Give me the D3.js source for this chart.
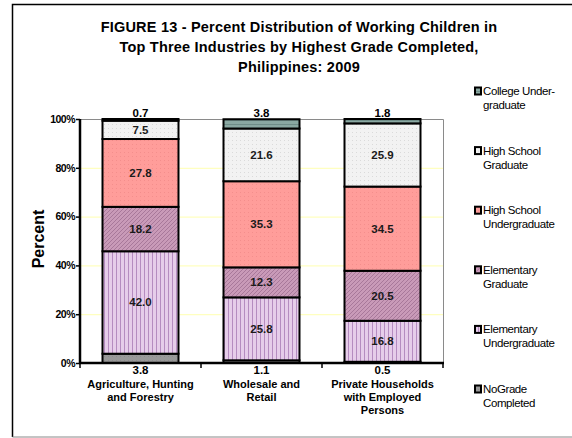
<!DOCTYPE html>
<html>
<head>
<meta charset="utf-8">
<script src="https://cdn.jsdelivr.net/npm/d3@7"></script>
<style>
  body { margin: 0; background: #fff; }
  svg text { font-family: Arial, "Liberation Sans", sans-serif; }
</style>
</head>
<body>
<div class="chartWrapper"></div>
<script>
// data
let industries = ['Agriculture, Hunting and Forestry', 'Wholesale and Retail', 'Private Households with Employed Persons'];
let industryLines = [['Agriculture, Hunting', 'and Forestry'], ['Wholesale and', 'Retail'], ['Private Households', 'with Employed', 'Persons']];
let grades = ['NoGrade Completed', 'Elementary Undergraduate', 'Elementary Graduate', 'High School Undergraduate', 'High School Graduate', 'College Undergraduate'];
let noGrade = [3.8, 1.1, 0.5];
let elemUnder = [42.0, 25.8, 16.8];
let elemGrad = [18.2, 12.3, 20.5];
let hsUnder = [27.8, 35.3, 34.5];
let hsGrad = [7.5, 21.6, 25.9];
let college = [0.7, 3.8, 1.8];
let yTicks = [0, 20, 40, 60, 80, 100];
let legendLines = [['College Under-', 'graduate'], ['High School', 'Graduate'], ['High School', 'Undergraduate'], ['Elementary', 'Graduate'], ['Elementary', 'Undergraduate'], ['NoGrade', 'Completed']];

let series = [noGrade, elemUnder, elemGrad, hsUnder, hsGrad, college];

let width = 572, height = 438;
let svg = d3.select('.chartWrapper').append('svg')
	.attr('width', width).attr('height', height);

//Patterns for each segment
let defs = svg.append('defs');
let pat = (id, bg, draw) => {
	let p = defs.append('pattern').attr('id', id).attr('patternUnits', 'userSpaceOnUse')
		.attr('width', 4).attr('height', 4);
	p.append('rect').attr('width', 4).attr('height', 4).attr('fill', bg);
	draw(p);
};
pat('pNone', '#999999', p => p.append('rect').attr('width', 1).attr('height', 1).attr('fill', '#8c8c8c'));
pat('pElemU', '#e6cdea', p => p.append('rect').attr('x', 0).attr('width', 1).attr('height', 4).attr('fill', '#b58cc0'));
pat('pElemG', '#c99ab8', p => p.append('path').attr('d', 'M0,4 L4,0').attr('stroke', '#a8789a').attr('stroke-width', 1));
pat('pHsU', '#ff9d9a', p => p.append('rect').attr('width', 1).attr('height', 1).attr('fill', '#f48e8c'));
pat('pHsG', '#f2f2f2', p => p.append('rect').attr('width', 1).attr('height', 1).attr('fill', '#dadada'));
pat('pColl', '#8aa8a2', p => p.append('rect').attr('y', 0).attr('width', 4).attr('height', 1).attr('fill', '#6f8d88'));
let fills = ['url(#pNone)', 'url(#pElemU)', 'url(#pElemG)', 'url(#pHsU)', 'url(#pHsG)', 'url(#pColl)'];

//Outer frame
svg.append('path').attr('d', 'M12.5,437 L12.5,4.5 L572,4.5').attr('fill', 'none').attr('stroke', '#000').attr('stroke-width', 1.5);
svg.append('line').attr('x1', 12.5).attr('x2', 572).attr('y1', 437).attr('y2', 437).attr('stroke', '#888');

//Title
let title = ['FIGURE 13 - Percent Distribution of Working Children in', 'Top Three Industries by Highest Grade Completed,', 'Philippines: 2009'];
svg.append('g').selectAll('text').data(title).enter().append('text')
	.attr('x', 299).attr('y', (d, i) => 32 + i * 20)
	.attr('text-anchor', 'middle').style('font-size', '14.5px').style('font-weight', 'bold')
	.style('letter-spacing', '0.2px')
	.text(d => d);

//Scales
let xScale = d3.scaleBand().domain(industries).range([80, 443]).paddingInner(0.372).paddingOuter(0.186);
let yScale = d3.scaleLinear().domain([0, 100]).range([363, 119]);

//Gridlines and plot border
let plot = svg.append('g');
plot.selectAll('line.grid').data(yTicks.filter(t => t > 0 && t < 100)).enter().append('line')
	.attr('x1', 81).attr('x2', 443).attr('y1', d => yScale(d) + 0.5).attr('y2', d => yScale(d) + 0.5)
	.attr('stroke', '#ffffc0').attr('stroke-width', 1.2);
plot.append('path').attr('d', 'M80,' + (yScale(100) + 0.5) + ' L443.5,' + (yScale(100) + 0.5) + ' L443.5,' + yScale(0))
	.attr('fill', 'none').attr('stroke', '#8a8a8a').attr('stroke-width', 1);

//Stack
let stackData = industries.map((c, i) => {
	let row = { cat: c };
	grades.forEach((g, k) => row[g] = series[k][i]);
	return row;
});
let stacked = d3.stack().keys(grades)(stackData);

let bars = svg.append('g');
stacked.forEach((layer, k) => {
	bars.selectAll('rect.s' + k).data(layer).enter().append('rect')
		.attr('x', d => xScale(d.data.cat))
		.attr('y', d => yScale(d[1]))
		.attr('width', xScale.bandwidth())
		.attr('height', d => yScale(d[0]) - yScale(d[1]))
		.attr('fill', fills[k])
		.attr('stroke', '#000').attr('stroke-width', 2);
});

//Value labels inside the middle segments
stacked.slice(1, 5).forEach(layer => {
	bars.selectAll(null).data(layer).enter().append('text')
		.attr('x', d => xScale(d.data.cat) + xScale.bandwidth() / 2)
		.attr('y', d => (yScale(d[0]) + yScale(d[1])) / 2 + 4)
		.attr('text-anchor', 'middle').style('font-size', '11.5px').style('font-weight', 'bold').attr('fill', '#1a1a1a')
		.text(d => (d[1] - d[0]).toFixed(1));
});
//Top labels (College) above bars
bars.selectAll(null).data(stacked[5]).enter().append('text')
	.attr('x', d => xScale(d.data.cat) + xScale.bandwidth() / 2)
	.attr('y', d => yScale(100) - 2)
	.attr('text-anchor', 'middle').style('font-size', '11.5px').style('font-weight', 'bold')
	.text(d => (d[1] - d[0]).toFixed(1));
//Bottom labels (No grade) below axis
bars.selectAll(null).data(stacked[0]).enter().append('text')
	.attr('x', d => xScale(d.data.cat) + xScale.bandwidth() / 2)
	.attr('y', yScale(0) + 11)
	.attr('text-anchor', 'middle').style('font-size', '11.5px').style('font-weight', 'bold')
	.text(d => (d[1] - d[0]).toFixed(1));

//Y axis
let yAxis = d3.axisLeft(yScale).tickValues(yTicks).tickSize(4).tickFormat(d => d + '%');
let yAxisGroup = svg.append('g').attr('transform', 'translate(80,0)').call(yAxis);
yAxisGroup.select('.domain').attr('stroke-width', 2.5).attr('d', 'M0,' + yScale(100) + 'V' + (yScale(0) + 1));
yAxisGroup.selectAll('.tick line').attr('stroke-width', 1.5);
yAxisGroup.selectAll('.tick text').attr('x', -5).style('font-size', '10.5px').style('font-weight', 'bold')
	.style('font-family', 'Arial, "Liberation Sans", sans-serif').style('letter-spacing', '-0.5px');

//X axis
let xAxisGroup = svg.append('g');
xAxisGroup.append('line').attr('x1', 79).attr('x2', 444).attr('y1', yScale(0)).attr('y2', yScale(0))
	.attr('stroke', '#000').attr('stroke-width', 2.5);
let bounds = [80].concat(industries.map(c => xScale(c) + xScale.bandwidth() + xScale.step() * xScale.paddingInner() / 2));
bounds[3] = 443;
xAxisGroup.selectAll('line.tk').data(bounds).enter().append('line')
	.attr('x1', d => d).attr('x2', d => d).attr('y1', yScale(0)).attr('y2', yScale(0) + 5)
	.attr('stroke', '#000').attr('stroke-width', 1.5);
xAxisGroup.selectAll('g.lbl').data(industries).enter().append('text')
	.attr('text-anchor', 'middle').style('font-size', '11px').style('font-weight', 'bold')
	.attr('transform', d => 'translate(' + (xScale(d) + xScale.bandwidth() / 2) + ',' + (yScale(0) + 25) + ')')
	.selectAll('tspan').data((d, i) => industryLines[i]).enter().append('tspan')
	.attr('x', 0).attr('dy', (d, i) => i === 0 ? 0 : 13).text(d => d);

//Y label
svg.append('text').attr('transform', 'translate(44,239) rotate(-90)')
	.attr('text-anchor', 'middle').style('font-size', '16px').style('font-weight', 'bold').text('Percent');

//Legend (top to bottom: College first)
let legendFills = fills.slice().reverse();
let legend = svg.append('g').selectAll('g').data(legendLines).enter().append('g')
	.attr('transform', (d, i) => 'translate(474,' + (91 + i * 59.6) + ')');
legend.append('rect').attr('x', 1).attr('y', -3.5).attr('width', 6).attr('height', 7)
	.attr('fill', (d, i) => legendFills[i]).attr('stroke', '#000').attr('stroke-width', 2);
legend.append('text').style('font-size', '11.5px').style('letter-spacing', '-0.4px')
	.selectAll('tspan').data(d => d).enter().append('tspan')
	.attr('x', (d, i) => i === 0 ? 9 : 9).attr('y', (d, i) => 4 + i * 14).text(d => d);
</script>
</body>
</html>
